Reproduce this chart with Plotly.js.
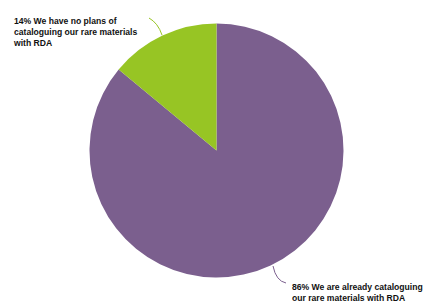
<!DOCTYPE html>
<html><head><meta charset="utf-8">
<script src="https://cdn.plot.ly/plotly-3.0.1.min.js"></script>
<style>html,body{margin:0;padding:0;background:#fff}#chart{width:428px;height:303px}</style>
</head><body><div id="chart"></div>
<script>
const labels = ["We are already cataloguing<br>our rare materials with RDA", "We have no plans of<br>cataloguing our rare materials<br>with RDA"];
const values = [86, 14];
const colors = ["#7b5f8e", "#97c524"];

const W = 428, H = 303;
const px = x => x / W, py = y => 1 - y / H;
const cx = 216.5, cy = 150.5, r = 127;

const trace = {
  type: "pie", labels: labels, values: values, sort: false,
  direction: "clockwise", rotation: 0,
  marker: {colors: colors, line: {width: 0}},
  textinfo: "none", hoverinfo: "label+percent", showlegend: false,
  domain: {x: [px(cx - r), px(cx + r)], y: [py(cy + r), py(cy - r)]}
};

const font = {family: "Liberation Sans, Arial, sans-serif", size: 8.6, color: "#111"};
const annotations = [
  {text: "<b>" + values[1] + "% " + labels[1] + "</b>", x: px(11), y: py(14), xanchor: "left", yanchor: "top", align: "left"},
  {text: "<b>" + values[0] + "% " + labels[0] + "</b>", x: px(290), y: py(280), xanchor: "left", yanchor: "top", align: "left"}
].map(a => Object.assign(a, {xref: "paper", yref: "paper", showarrow: false, font: font}));

function path(pts) {
  return "M" + px(pts[0][0]) + "," + py(pts[0][1]) + " Q" + px(pts[1][0]) + "," + py(pts[1][1]) + " " + px(pts[2][0]) + "," + py(pts[2][1]);
}
const shapes = [
  {type: "path", path: path([[149, 18], [158, 23], [162, 35]]), line: {color: colors[1], width: 1}},
  {type: "path", path: path([[273, 266], [276, 281], [286, 283]]), line: {color: colors[0], width: 1}}
].map(s => Object.assign(s, {xref: "paper", yref: "paper"}));

Plotly.newPlot("chart", [trace], {
  width: W, height: H, margin: {l: 0, r: 0, t: 0, b: 0},
  paper_bgcolor: "#fff", plot_bgcolor: "#fff",
  annotations: annotations, shapes: shapes
}, {displayModeBar: false, staticPlot: true});
</script></body></html>
